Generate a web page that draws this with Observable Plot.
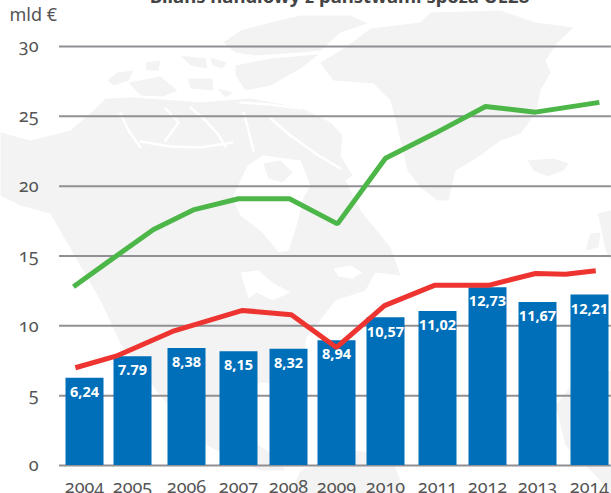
<!DOCTYPE html>
<html><head><meta charset="utf-8">
<script src="https://cdn.jsdelivr.net/npm/d3@7"></script>
<script src="https://cdn.jsdelivr.net/npm/@observablehq/plot@0.6"></script>
<style>
html,body{margin:0;padding:0;background:#fff;overflow:hidden}
#wrap{position:relative;width:611px;height:493px;overflow:hidden}
#wrap svg{position:absolute;left:0;top:0;background:transparent}
</style></head><body><div id="wrap"></div>
<script>
const years=[2004,2005,2006,2007,2008,2009,2010,2011,2012,2013,2014];
const barValues=[6.24,7.79,8.38,8.15,8.32,8.94,10.57,11.02,12.73,11.67,12.21];
const barLabels=["6,24","7.79","8,38","8,15","8,32","8,94","10,57","11,02","12,73","11,67","12,21"];
const greenYears=[2003.77,2004.6,2005.39,2006.13,2007,2008.02,2009.02,2010,2010.96,2011.96,2012.96,2014.19];
const greenValues=[12.8,14.85,16.9,18.3,19.1,19.1,17.3,22,23.8,25.7,25.3,26];
const redYears=[2003.81,2004.69,2005.74,2007.08,2008.06,2009,2009.98,2010.94,2012.02,2012.96,2013.54,2014.12];
const redValues=[7,7.87,9.6,11.1,10.8,8.45,11.45,12.9,12.9,13.75,13.7,13.95];
const yTicks=[0,5,10,15,20,25,30];
const titleText="Bilans handlowy z państwami spoza UE28";
const unitText="mld €";
const fontFamily="'Noto Sans',sans-serif";

// decorative pale world-map silhouette (background picture space)
const mapShapes=[
 [[320,62],[345,47],[370,28],[420,22],[430,12],[500,10],[535,22],[573,27],[557,42],[545,60],[550,72],[540,90],[535,113],[520,133],[500,140],[477,157],[455,170],[448,200],[437,200],[420,187],[407,170],[397,127],[390,100],[373,83],[333,80],[323,67]],
 [[527,160],[553,158],[568,163],[563,170],[547,176],[533,170]],
 [[585,250],[590,233],[600,232],[598,247]],
 [[597,213],[611,210],[611,260],[605,250],[600,225]],
 [[611,370],[575,380],[555,405],[565,445],[595,475],[611,493]],
 [[300,470],[355,450],[390,455],[405,493],[290,493]],
 [[107,80],[117,72],[133,70],[128,80],[113,85]],
 [[145,62],[160,60],[158,70],[146,70]],
 [[128,82],[160,76],[177,90],[163,96],[140,95]],
 [[180,55],[205,58],[207,68],[190,65]],
 [[210,57],[226,62],[222,68],[212,65]],
 [[187,78],[212,78],[213,90],[190,88]],
 [[217,88],[233,92],[225,97]],
 [[223,42],[240,30],[270,22],[300,15],[350,15],[367,23],[340,32],[320,50],[300,52],[255,55],[235,52]],
 [[235,65],[270,58],[318,54],[300,68],[270,85],[245,90],[235,75]],
 [[0,132],[30,140],[70,130],[93,110],[105,98],[135,97],[200,102],[250,98],[300,107],[330,122],[342,135],[340,155],[352,175],[345,180],[360,210],[390,247],[400,275],[375,272],[365,290],[335,300],[306,337],[300,370],[305,400],[290,385],[260,382],[232,395],[235,420],[250,440],[275,455],[285,470],[260,470],[225,455],[190,435],[160,395],[120,343],[100,300],[67,243],[50,213],[20,205],[0,195]]
];
const mapHoles=[
 [[232,197],[247,165],[262,155],[300,160],[310,185],[303,197],[297,222],[288,250],[278,252],[262,232],[240,215]],
 [[240,272],[258,270],[272,282],[290,292],[272,300],[256,292],[248,298],[244,285]],
 [[333,268],[350,265],[362,272],[352,278],[338,276]]
];
const mapIslands=[
 [[263,163],[280,160],[292,172],[282,182],[268,178]]
];
const mapChannels=[
 [[120,113],[128,130],[140,147]],
 [[140,141],[170,146],[200,147],[232,142]],
 [[190,107],[205,120],[217,133],[225,146]],
 [[243,112],[248,130],[253,150]],
 [[240,102],[270,104],[300,108]],
 [[270,118],[290,135],[318,155],[340,168]],
 [[165,108],[178,122],[165,140]]
];
const toRows=(shapes,prefix)=>shapes.flatMap((s,i)=>s.map(([px,py])=>({px,py,z:prefix+i})));

const bg=Plot.plot({width:611,height:493,margin:0,
 x:{domain:[0,611],range:[0,611],axis:null},
 y:{domain:[0,493],range:[0,493],axis:null},
 style:{background:"transparent"},
 marks:[
  Plot.line(toRows(mapShapes,"a"),{x:"px",y:"py",z:"z",fill:"#f3f3f3",stroke:null}),
  Plot.line(toRows(mapHoles,"h"),{x:"px",y:"py",z:"z",fill:"#ffffff",stroke:null}),
  Plot.line(toRows(mapIslands,"i"),{x:"px",y:"py",z:"z",fill:"#f3f3f3",stroke:null}),
  Plot.line(toRows(mapChannels,"c"),{x:"px",y:"py",z:"z",stroke:"#ffffff",strokeWidth:2.5})
 ]});

const bars=years.map((year,i)=>({year,value:barValues[i],label:barLabels[i]}));
const green=greenYears.map((year,i)=>({year,value:greenValues[i]}));
const red=redYears.map((year,i)=>({year,value:redValues[i]}));

const chart=Plot.plot({width:611,height:493,marginLeft:59,marginRight:0,marginTop:46,marginBottom:28,
 style:{background:"transparent",fontFamily},
 x:{type:"linear",domain:years,range:[84,132,186,238,288,336,385,437,487,537,589]},
 y:{domain:[0,30]},
 marks:[
  Plot.ruleY(yTicks,{stroke:"#908f93",strokeWidth:2,x1:2003.48,x2:2014.42}),
  Plot.ruleX(bars,{x:"year",y1:0,y2:"value",stroke:"#006fb9",strokeWidth:38,strokeLinecap:"butt"}),
  Plot.text(bars,{x:"year",y:"value",text:"label",dy:14,fill:"#fff",fontSize:14.5,fontWeight:700}),
  Plot.line(green,{x:"year",y:"value",stroke:"#4cb748",strokeWidth:5,strokeLinecap:"butt",strokeLinejoin:"miter"}),
  Plot.line(red,{x:"year",y:"value",stroke:"#ee3430",strokeWidth:5,strokeLinecap:"butt",strokeLinejoin:"miter"}),
  Plot.axisY(yTicks,{anchor:"left",tickSize:0,tickPadding:21,fontSize:18,fill:"#555",label:null,tickFormat:d=>String(d)}),
  Plot.axisX(years,{anchor:"bottom",tickSize:0,tickPadding:15,fontSize:18,fill:"#555",label:null,tickFormat:d=>String(d)}),
  Plot.text([unitText],{frameAnchor:"top-left",dx:-50,dy:-31,fontSize:18,fill:"#555",textAnchor:"start",lineAnchor:"middle"}),
  Plot.text([titleText],{frameAnchor:"top",dy:-49,dx:4,fontSize:18.5,fontWeight:700,fill:"#444",lineAnchor:"middle"})
 ]});
const wrap=document.getElementById("wrap");
wrap.append(bg,chart);
chart.style.overflow="visible";
chart.querySelectorAll("text").forEach(t=>{
  const txt=t.textContent;
  if(/^\d+$/.test(txt)){t.style.fontVariantNumeric="oldstyle-nums";t.style.fontFeatureSettings="'onum'";}
  else {t.style.fontVariantNumeric="lining-nums";}
});
</script></body></html>
